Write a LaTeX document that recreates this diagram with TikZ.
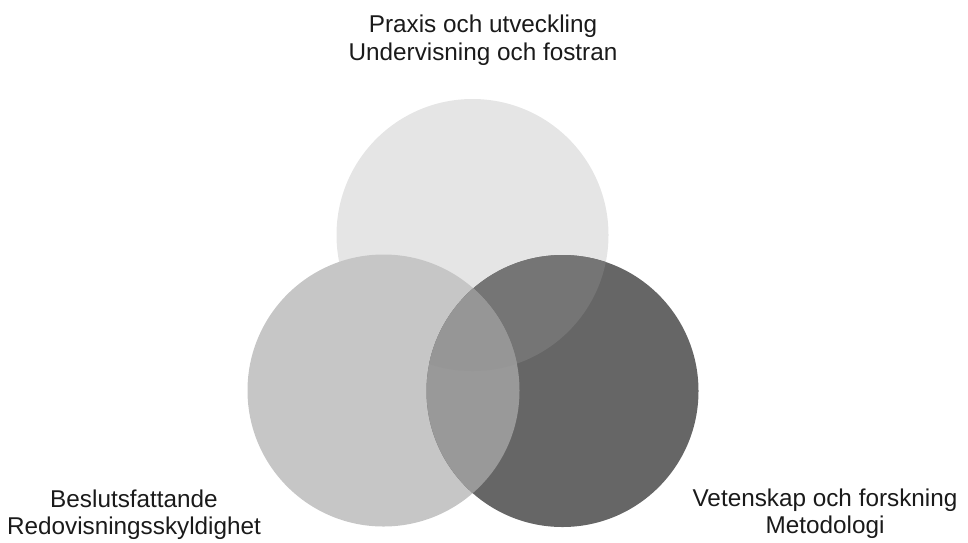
\documentclass[tikz,border=0pt]{standalone}
\usepackage{fontspec}
\setmainfont{Liberation Sans}
\definecolor{ctop}{RGB}{229,229,229}
\definecolor{cleft}{RGB}{198,198,198}
\definecolor{cright}{RGB}{102,102,102}
\definecolor{ctopright}{RGB}{117,117,117}
\definecolor{cleftright}{RGB}{153,153,153}
\definecolor{call}{RGB}{150,150,150}
\definecolor{ctext}{RGB}{26,26,26}
\tikzset{
  lbl/.style={font=\fontsize{24.3}{27.5}\selectfont, text=ctext, align=center, inner sep=0pt, anchor=north},
}
\begin{document}
\begin{tikzpicture}[x=1pt,y=-1pt]
\useasboundingbox (0,0) rectangle (968,542);
\coordinate (T) at (472.5,235);
\coordinate (L) at (383.5,390.5);
\coordinate (R) at (562.5,391);
\def\rr{136pt}
% base circles
\fill[ctop] (T) circle[radius=\rr];
\fill[cleft] (L) circle[radius=\rr];
\fill[cright] (R) circle[radius=\rr];
% overlaps
\begin{scope}
  \clip (R) circle[radius=\rr];
  \fill[ctopright] (T) circle[radius=\rr];
  \fill[cleftright] (L) circle[radius=\rr];
  \clip (L) circle[radius=\rr];
  \fill[call] (T) circle[radius=\rr];
\end{scope}
% labels
\node[lbl] (ltop) at (483,15) {Praxis och utveckling\\Undervisning och fostran};
\node[lbl] (lleft) at (134,489.5) {Beslutsfattande\\Redovisningsskyldighet};
\node[lbl] (lright) at (825,488.5) {Vetenskap och forskning\\Metodologi};
\end{tikzpicture}
\end{document}
